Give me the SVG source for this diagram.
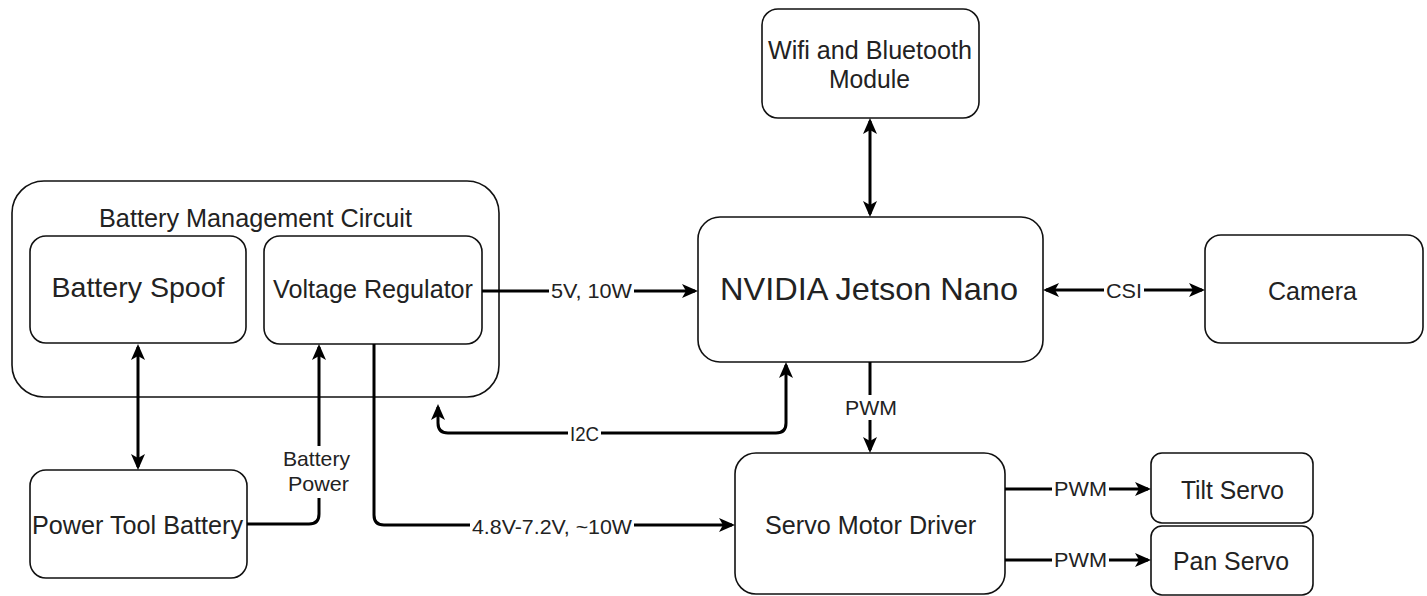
<svg xmlns="http://www.w3.org/2000/svg" width="1427" height="596" viewBox="0 0 1427 596">
<style>
.box{fill:#fff;stroke:#111;stroke-width:1.6}
.grp{fill:#fff;stroke:#111;stroke-width:1.6}
.t{font-family:"Liberation Sans",Arial,sans-serif;fill:#222;text-anchor:middle;font-size:25px}
.t.big{font-size:28.5px}
.t.huge{font-size:32px}
.lbl{font-family:"Liberation Sans",Arial,sans-serif;fill:#222;text-anchor:middle;font-size:21px}
.e{fill:none;stroke:#000;stroke-width:3}
.bg{fill:#fff}
</style>
<defs>
<marker id="arr" markerUnits="userSpaceOnUse" viewBox="0 0 16 14" markerWidth="16" markerHeight="14" refX="13" refY="7" orient="auto-start-reverse">
<path d="M0,0 L16,7 L0,14 L4,7 Z" fill="#000"/>
</marker>
</defs>
<rect width="1427" height="596" fill="#fff"/>

<g id="bmc">
<rect class="grp" x="12" y="181" width="487" height="216" rx="32"/>
<text class="t" x="255.5" y="227" textLength="313" lengthAdjust="spacingAndGlyphs">Battery Management Circuit</text>
</g>
<g id="battery-spoof">
<rect class="box" x="30" y="236" width="216" height="107" rx="16"/>
<text class="t big" x="138" y="297" textLength="173" lengthAdjust="spacingAndGlyphs">Battery Spoof</text>
</g>
<g id="voltage-regulator">
<rect class="box" x="264" y="236" width="218" height="108" rx="16"/>
<text class="t" x="373" y="298" textLength="200" lengthAdjust="spacingAndGlyphs">Voltage Regulator</text>
</g>
<g id="power-tool-battery">
<rect class="box" x="30" y="470" width="217" height="108" rx="16"/>
<text class="t" x="137.5" y="534" textLength="211" lengthAdjust="spacingAndGlyphs">Power Tool Battery</text>
</g>
<g id="wifi">
<rect class="box" x="762" y="9" width="217" height="109" rx="16"/>
<text class="t" x="870" y="59" textLength="204" lengthAdjust="spacingAndGlyphs">Wifi and Bluetooth</text>
<text class="t" x="869.5" y="88" textLength="81" lengthAdjust="spacingAndGlyphs">Module</text>
</g>
<g id="jetson">
<rect class="box" x="698" y="217" width="345" height="145" rx="22"/>
<text class="t huge" x="869" y="300" textLength="298" lengthAdjust="spacingAndGlyphs">NVIDIA Jetson Nano</text>
</g>
<g id="camera">
<rect class="box" x="1205" y="235" width="218" height="108" rx="16"/>
<text class="t" x="1312.5" y="300" textLength="89" lengthAdjust="spacingAndGlyphs">Camera</text>
</g>
<g id="servo-driver">
<rect class="box" x="735" y="453" width="270" height="141" rx="21"/>
<text class="t" x="870.5" y="534" textLength="211" lengthAdjust="spacingAndGlyphs">Servo Motor Driver</text>
</g>
<g id="tilt-servo">
<rect class="box" x="1151" y="453" width="162" height="70" rx="11"/>
<text class="t" x="1232.5" y="499" textLength="103" lengthAdjust="spacingAndGlyphs">Tilt Servo</text>
</g>
<g id="pan-servo">
<rect class="box" x="1151" y="526" width="162" height="69" rx="11"/>
<text class="t" x="1231" y="570" textLength="116" lengthAdjust="spacingAndGlyphs">Pan Servo</text>
</g>

<g id="connectors">
<path class="e" d="M138,347 V467" marker-start="url(#arr)" marker-end="url(#arr)"/>
<path class="e" d="M247,524 H309 Q319,524 319,514 V347" marker-end="url(#arr)"/>
<path class="e" d="M374,344 V515 Q374,525 384,525 H732" marker-end="url(#arr)"/>
<path class="e" d="M482,291 H695" marker-end="url(#arr)"/>
<path class="e" d="M786,365 V423 Q786,433 776,433 H448 Q438,433 438,423 V407" marker-start="url(#arr)" marker-end="url(#arr)"/>
<path class="e" d="M870,121 V214" marker-start="url(#arr)" marker-end="url(#arr)"/>
<path class="e" d="M1046,290 H1202" marker-start="url(#arr)" marker-end="url(#arr)"/>
<path class="e" d="M870,362 V450" marker-end="url(#arr)"/>
<path class="e" d="M1005,489 H1148" marker-end="url(#arr)"/>
<path class="e" d="M1005,560 H1148" marker-end="url(#arr)"/>

<rect class="bg" x="281" y="446" width="72" height="52"/>
<text class="lbl" x="316.5" y="466" textLength="67" lengthAdjust="spacingAndGlyphs">Battery</text>
<text class="lbl" x="318.5" y="491" textLength="61" lengthAdjust="spacingAndGlyphs">Power</text>
<rect class="bg" x="470" y="514" width="164" height="25"/>
<text class="lbl" x="552" y="534" textLength="160" lengthAdjust="spacingAndGlyphs">4.8V-7.2V, ~10W</text>
<rect class="bg" x="549" y="279" width="85" height="25"/>
<text class="lbl" x="591.5" y="298" textLength="81" lengthAdjust="spacingAndGlyphs">5V, 10W</text>
<rect class="bg" x="568" y="422" width="33" height="24"/>
<text class="lbl" x="584.5" y="441" textLength="29" lengthAdjust="spacingAndGlyphs">I2C</text>
<rect class="bg" x="1104" y="278" width="40" height="24"/>
<text class="lbl" x="1124" y="298" textLength="36" lengthAdjust="spacingAndGlyphs">CSI</text>
<rect class="bg" x="843" y="395" width="56" height="25"/>
<text class="lbl" x="871" y="415" textLength="52" lengthAdjust="spacingAndGlyphs">PWM</text>
<rect class="bg" x="1052" y="477" width="57" height="24"/>
<text class="lbl" x="1080.5" y="496" textLength="53" lengthAdjust="spacingAndGlyphs">PWM</text>
<rect class="bg" x="1052" y="548" width="57" height="24"/>
<text class="lbl" x="1080.5" y="567" textLength="53" lengthAdjust="spacingAndGlyphs">PWM</text>
</g>
</svg>
